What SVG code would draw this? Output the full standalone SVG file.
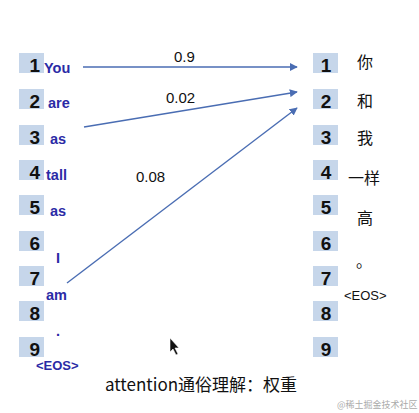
<svg xmlns="http://www.w3.org/2000/svg" width="419" height="413" viewBox="0 0 419 413">
<defs>
<marker id="ah" viewBox="0 0 10 10" refX="9" refY="5" markerWidth="8" markerHeight="8" markerUnits="userSpaceOnUse" orient="auto"><path d="M0,0 L10,5 L0,10 z" fill="#4a6db3"/></marker>
<style>
.box{fill:#c6d6ea}
.num{font-family:"Liberation Sans",Arial,sans-serif;font-weight:bold;font-size:19px;fill:#111}
.w{font-family:"Liberation Sans",Arial,sans-serif;font-weight:bold;font-size:14.5px;fill:#2b2ba6}
.zh{font-family:"Noto Sans CJK SC",sans-serif;font-size:16px;fill:#111}
.eos{font-family:"Liberation Sans",Arial,sans-serif;font-size:13px;fill:#111}
.lbl{font-family:"Liberation Sans",Arial,sans-serif;font-size:15px;fill:#111}
.c{stroke:#4a6db3;stroke-width:1.4;fill:none;marker-end:url(#ah)}
</style>
</defs>
<rect width="419" height="413" fill="#fff"/>
<g id="left">
<g id="L1"><rect class="box" x="19" y="53" width="25" height="20"/><text class="num" x="40" y="72" text-anchor="end">1</text><text class="w" x="44" y="73">You</text></g>
<g id="L2"><rect class="box" x="19" y="89" width="25" height="20"/><text class="num" x="40" y="108" text-anchor="end">2</text><text class="w" x="48" y="108">are</text></g>
<g id="L3"><rect class="box" x="19" y="125" width="25" height="20"/><text class="num" x="40" y="144" text-anchor="end">3</text><text class="w" x="50" y="144">as</text></g>
<g id="L4"><rect class="box" x="19" y="160" width="25" height="20"/><text class="num" x="40" y="179" text-anchor="end">4</text><text class="w" x="46" y="180">tall</text></g>
<g id="L5"><rect class="box" x="19" y="195" width="25" height="20"/><text class="num" x="40" y="214" text-anchor="end">5</text><text class="w" x="50" y="216">as</text></g>
<g id="L6"><rect class="box" x="19" y="231" width="25" height="20"/><text class="num" x="40" y="250" text-anchor="end">6</text><text class="w" x="56" y="263">I</text></g>
<g id="L7"><rect class="box" x="19" y="266" width="25" height="20"/><text class="num" x="40" y="285" text-anchor="end">7</text><text class="w" x="46" y="300">am</text></g>
<g id="L8"><rect class="box" x="19" y="301" width="25" height="20"/><text class="num" x="40" y="320" text-anchor="end">8</text><text class="w" x="56" y="336">.</text></g>
<g id="L9"><rect class="box" x="19" y="337" width="25" height="20"/><text class="num" x="40" y="356" text-anchor="end">9</text><text class="w" x="36" y="370" style="font-size:13px">&lt;EOS&gt;</text></g>
</g>
<g id="right">
<g id="R1"><rect class="box" x="313" y="53" width="25" height="20"/><text class="num" x="326" y="72" text-anchor="middle">1</text><text class="zh" x="357" y="68">你</text></g>
<g id="R2"><rect class="box" x="313" y="89" width="25" height="20"/><text class="num" x="326" y="108" text-anchor="middle">2</text><text class="zh" x="357" y="107">和</text></g>
<g id="R3"><rect class="box" x="313" y="125" width="25" height="20"/><text class="num" x="326" y="144" text-anchor="middle">3</text><text class="zh" x="357" y="144">我</text></g>
<g id="R4"><rect class="box" x="313" y="160" width="25" height="20"/><text class="num" x="326" y="179" text-anchor="middle">4</text><text class="zh" x="348" y="184">一样</text></g>
<g id="R5"><rect class="box" x="313" y="195" width="25" height="20"/><text class="num" x="326" y="214" text-anchor="middle">5</text><text class="zh" x="357" y="224">高</text></g>
<g id="R6"><rect class="box" x="313" y="231" width="25" height="20"/><text class="num" x="326" y="250" text-anchor="middle">6</text><text class="zh" x="356" y="267">。</text></g>
<g id="R7"><rect class="box" x="313" y="266" width="25" height="20"/><text class="num" x="326" y="285" text-anchor="middle">7</text><text class="eos" x="344" y="300">&lt;EOS&gt;</text></g>
<g id="R8"><rect class="box" x="313" y="301" width="25" height="20"/><text class="num" x="326" y="320" text-anchor="middle">8</text></g>
<g id="R9"><rect class="box" x="313" y="337" width="25" height="20"/><text class="num" x="326" y="356" text-anchor="middle">9</text></g>
</g>
<g id="connectors">
<line class="c" x1="83" y1="67" x2="297" y2="67"/>
<line class="c" x1="84" y1="127" x2="297" y2="92"/>
<line class="c" x1="67" y1="283" x2="297" y2="108"/>
<text class="lbl" x="174" y="62">0.9</text>
<text class="lbl" x="166" y="103">0.02</text>
<text class="lbl" x="136" y="182">0.08</text>
</g>
<path d="M170,338 L170,352 L173,349 L176,355 L178,354 L175,348 L179,348 z" fill="#111" stroke="#fff" stroke-width="0.6"/>
<text x="105" y="391" style="font-family:'Noto Sans CJK SC',sans-serif;font-size:17px;fill:#111">attention通俗理解：权重</text>
<text x="337" y="408" style="font-family:'Noto Sans CJK SC',sans-serif;font-size:9px;fill:#aaa">@稀土掘金技术社区</text>
</svg>
